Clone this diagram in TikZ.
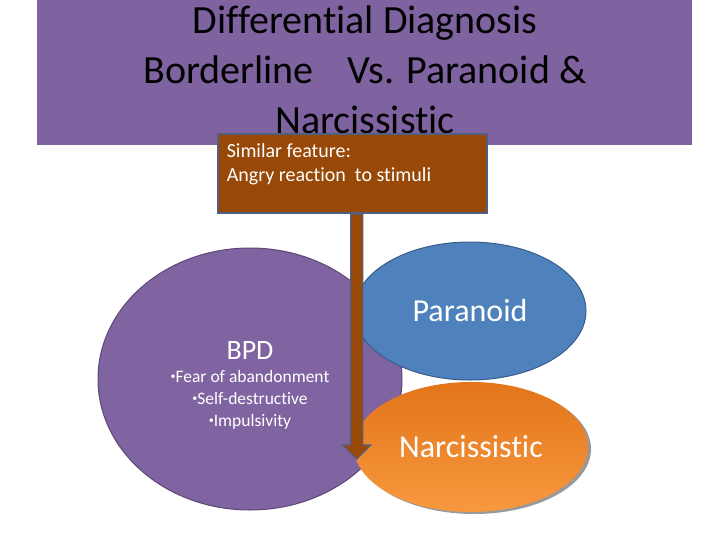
\documentclass[tikz,border=0pt]{standalone}
\usepackage{fontspec}
\setmainfont{Carlito}[Ligatures=NoCommon]
\usepackage{tikz}
\usetikzlibrary{arrows.meta,positioning,shapes.geometric,shapes.arrows,shadows}
\definecolor{band}{HTML}{7F63A1}
\definecolor{plum}{HTML}{8064A2}
\definecolor{plumedge}{HTML}{5C4776}
\definecolor{steel}{HTML}{4F81BD}
\definecolor{steeledge}{HTML}{385D8A}
\definecolor{rust}{HTML}{984807}
\definecolor{slate}{HTML}{50617F}
\definecolor{ambertop}{HTML}{E2741A}
\definecolor{amberbot}{HTML}{F8993F}
\newcommand{\dotitem}{{\fontsize{10}{10}\selectfont\raisebox{3pt}{•}}}

\begin{document}
\begin{tikzpicture}[
  x=1pt,y=-1pt,
  blob/.style={ellipse,inner sep=0pt,align=center,text=white,line width=1pt},
  cue/.style={draw=slate,line width=1.5pt,fill=rust,text=white,
              inner xsep=9pt,inner ysep=9.5pt,font=\fontsize{20}{24}\selectfont},
  bigarrow/.style={single arrow,draw=slate,line width=1.2pt,fill=rust,
                   minimum width=27pt,single arrow head extend=8pt,
                   single arrow head indent=0pt,inner xsep=0pt,inner ysep=5.5pt,
                   minimum height=245pt}
]
\useasboundingbox (0,0) rectangle (728,546);
\fill[band] (37,0) rectangle (692,145);
\node[align=center,font=\fontsize{40}{50}\selectfont] (title) at (365,70)
  {Differential Diagnosis\\Borderline\hspace{34pt}Vs. Paranoid \&\\Narcissistic};

% the three disorders
\node[blob,draw=plumedge,fill=plum,minimum width=304pt,minimum height=262pt,
  font=\fontsize{17.5}{22}\selectfont] (bpd) at (250,379)
  {\rule{0pt}{31pt}{\fontsize{28}{30}\selectfont BPD}\\[1pt]
   \dotitem Fear of abandonment\\
   \dotitem Self-destructive\\ \dotitem Impulsivity};
\node[blob,draw=steeledge,fill=steel,minimum width=232pt,minimum height=138pt,
  font=\fontsize{32}{36}\selectfont] (para) at (470,311) {Paranoid};
\node[blob,draw=none,top color=ambertop,bottom color=amberbot,
  drop shadow={shadow xshift=3pt,shadow yshift=-2pt,fill=gray!80,opacity=1},
  minimum width=234pt,minimum height=130pt,
  font=\fontsize{32}{36}\selectfont] (narc) at (471,447) {Narcissistic};

% shared feature
\node[cue,anchor=north west] (similar) at (217,133)
  {\parbox[t][60pt][t]{251pt}{Similar feature:\\Angry reaction\ \ to stimuli}};
\node[bigarrow,rotate=-90,anchor=tail] (down) at ([xshift=4.5pt]similar.south) {};
\end{tikzpicture}
\end{document}
